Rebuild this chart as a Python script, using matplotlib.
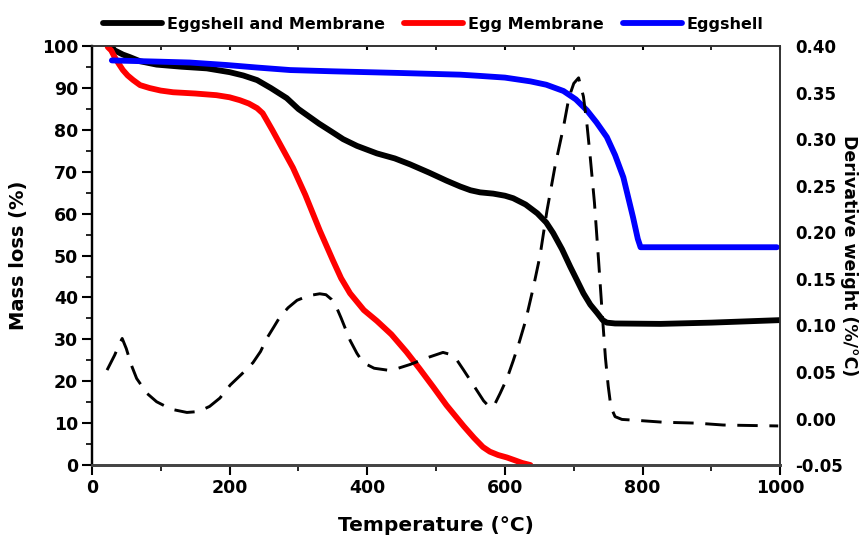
import matplotlib
matplotlib.use("Agg")
import matplotlib.pyplot as plt
from matplotlib.ticker import MultipleLocator, FuncFormatter

# Eggshell and Membrane (mass %)
t_esm = [28, 33, 45, 55, 70, 94, 130, 167, 200, 220, 240, 260, 283, 300, 330, 350, 365, 385, 414, 440, 462, 490,
         515, 535, 550, 564, 583, 600, 612, 630, 647, 660, 670, 683, 695, 705, 714, 724, 734, 742, 748, 760,
         826, 900, 950, 1000]
m_esm = [100, 99.0, 98.0, 97.4, 96.4, 95.6, 95.1, 94.7, 93.8, 93.0, 91.9, 90.0, 87.6, 85.0, 81.5, 79.4, 77.8, 76.2, 74.4, 73.2, 71.8, 69.8,
         67.9, 66.5, 65.6, 65.1, 64.8, 64.3, 63.7, 62.2, 60.1, 57.9, 55.4, 51.5, 47.3, 44.0, 41.0, 38.3, 36.3, 34.6, 34.0, 33.8,
         33.7, 34.0, 34.3, 34.6]

# Egg Membrane (mass %)
t_em = [23, 28, 33, 39, 45, 52, 60, 70, 84, 100, 118, 150, 181, 200, 215, 228, 240, 248, 254, 262, 272, 292, 310,
        331, 350, 362, 375, 395, 414, 435, 457, 476, 496, 515, 530, 540, 555, 568, 578, 590, 603, 615, 625, 637]
m_em = [99.8, 99.0, 97.4, 95.8, 94.3, 93.0, 91.9, 90.7, 90.0, 89.4, 89.0, 88.7, 88.3, 87.8, 87.1, 86.3, 85.2, 84.0, 82.3, 80.0, 77.0, 71.0, 64.5,
        56.0, 48.9, 44.6, 41.0, 37.0, 34.4, 31.2, 27.0, 23.0, 18.6, 14.3, 11.3, 9.3, 6.5, 4.3, 3.2, 2.4, 1.8, 1.1, 0.5, 0.0]

# Eggshell (mass %)
t_es = [29, 99, 142, 196, 240, 288, 350, 448, 535, 564, 600, 637, 660, 685, 703, 719, 733, 748, 760, 772, 786, 793, 797,
        850, 995]
m_es = [96.6, 96.3, 96.1, 95.5, 94.9, 94.3, 94.0, 93.6, 93.2, 92.9, 92.5, 91.6, 90.8, 89.3, 87.3, 84.7, 81.8, 78.3, 74.0, 68.7, 59.2, 54.0, 52.0,
        52.0, 52.0]

# Derivative weight (%/°C)
t_dtg = [22, 33, 40, 44, 50, 57, 65, 80, 94, 115, 138, 155, 171, 186, 201, 218, 234, 245, 254, 264, 273, 285, 298,
         315, 331, 340, 348, 355, 362, 375, 385, 394, 410, 429, 445, 462, 490, 510, 520, 530, 540, 555, 569, 578,
         585, 593, 603, 612, 620, 630, 641, 651, 661, 673, 685, 693, 700, 707, 714, 719, 724, 730, 736, 741, 746,
         750, 754, 760, 770, 792, 830, 879, 917, 956, 997]
d_dtg = [0.052, 0.068, 0.080, 0.086, 0.075, 0.058, 0.043, 0.027, 0.018, 0.010, 0.0065, 0.0075, 0.013, 0.022, 0.036, 0.048, 0.060, 0.072, 0.086, 0.098, 0.109, 0.119, 0.127,
         0.132, 0.134, 0.133, 0.128, 0.120, 0.108, 0.084, 0.070, 0.060, 0.054, 0.052, 0.054, 0.058, 0.066, 0.071, 0.069, 0.063, 0.052, 0.035, 0.019, 0.012,
         0.015, 0.027, 0.043, 0.062, 0.080, 0.105, 0.140, 0.175, 0.223, 0.272, 0.313, 0.345, 0.360, 0.366, 0.346, 0.317, 0.280, 0.232, 0.170, 0.116, 0.065,
         0.035, 0.012, 0.002, -0.001, -0.002, -0.004, -0.005, -0.007, -0.0075, -0.008]

x_ticks = [0, 200, 400, 600, 800, 1000]

plt.rcParams["font.family"] = ["DejaVu Sans"]
plt.rcParams["font.weight"] = "bold"

fig = plt.figure(figsize=(8.67, 5.37), dpi=100)
ax = fig.add_axes([0.106, 0.134, 0.794, 0.780])
ax2 = ax.twinx()

l1, = ax.plot(t_esm, m_esm, color="black", lw=4.2, solid_capstyle="round", solid_joinstyle="round",
              label="Eggshell and Membrane", zorder=3)
l2, = ax.plot(t_em, m_em, color="#ff0000", lw=4.2, solid_capstyle="round", solid_joinstyle="round",
              label="Egg Membrane", zorder=3)
l3, = ax.plot(t_es, m_es, color="#0000ff", lw=4.2, solid_capstyle="round", solid_joinstyle="round",
              label="Eggshell", zorder=3)
ax2.plot(t_dtg, d_dtg, color="black", lw=2.1, linestyle=(0, (7, 4)))

ax.set_xlim(0, 1000)
ax.set_ylim(0, 100)
ax2.set_ylim(-0.05, 0.40)

ax.set_xticks(x_ticks)
ax.xaxis.set_minor_locator(MultipleLocator(100))
ax.yaxis.set_major_locator(MultipleLocator(10))
ax.yaxis.set_minor_locator(MultipleLocator(5))
ax2.yaxis.set_major_locator(MultipleLocator(0.05))

ax.tick_params(axis="both", which="major", direction="out", length=7, width=1.5, labelsize=12.5, pad=3)
ax.tick_params(axis="both", which="minor", direction="out", length=4, width=1.2)
ax.tick_params(axis="x", which="both", top=True, labeltop=False)
ax2.tick_params(axis="y", which="major", length=0, labelsize=12, pad=11)
ax2.yaxis.set_major_formatter(FuncFormatter(lambda v, p: f"{v:.2f}"))

# top ticks point inwards and are faint
for tk in ax.xaxis.get_major_ticks() + ax.xaxis.get_minor_ticks():
    tk.tick2line.set_marker(3)
    tk.tick2line.set_markersize(3)
    tk.tick2line.set_color("#888888")

for lab in ax.get_xticklabels() + ax.get_yticklabels() + ax2.get_yticklabels():
    lab.set_fontweight("bold")

for a in (ax, ax2):
    a.spines["left"].set_linewidth(1.6)
    a.spines["right"].set_linewidth(1.2)
    a.spines["right"].set_color("#333333")
    a.spines["top"].set_linewidth(1.2)
    a.spines["top"].set_color("#333333")
    a.spines["bottom"].set_linewidth(2.0)
    a.spines["bottom"].set_color("#444444")

ax.set_xlabel("Temperature (\u00b0C)", fontsize=14.5, fontweight="bold", labelpad=14)
ax.set_ylabel("Mass loss (%)", fontsize=14, fontweight="bold", labelpad=10)
fig.text(849 / 867, 0.5 * (0.134 + 0.914), "Derivative weight (%/\u00b0C)", fontsize=12.5, fontweight="bold",
         rotation=-90, ha="center", va="center", rotation_mode="anchor")

leg = fig.legend(handles=[l1, l2, l3], loc="center", bbox_to_anchor=(0.5, 0.955), ncol=3, frameon=False,
                 fontsize=11.5, handlelength=3.7, handletextpad=0.3, columnspacing=1.2)
for txt in leg.get_texts():
    txt.set_fontweight("bold")

fig.savefig("out.png", dpi=100)
